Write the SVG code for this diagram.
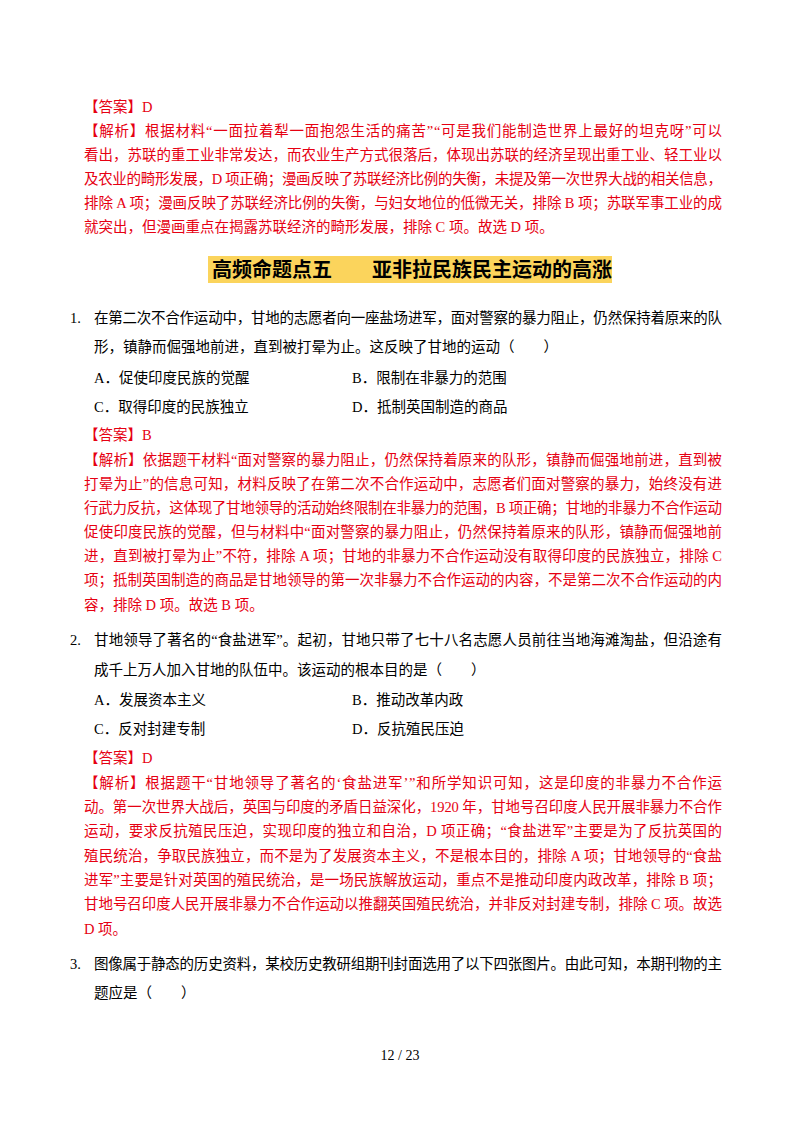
<svg xmlns="http://www.w3.org/2000/svg" width="800" height="1132" viewBox="0 0 800 1132">
<style>
text{font-family:"Liberation Serif","Noto Sans CJK SC",serif;font-size:14.5px;fill:#000}
.r{fill:#e60012}
.h{font-family:"Noto Sans CJK SC",sans-serif;font-weight:bold;font-size:20px}
</style>
<rect width="800" height="1132" fill="#fff"/>
<g id="prev">
<text class="r" x="84" y="112">【答案】D</text>
<text class="r" x="84" y="136" textLength="638" lengthAdjust="spacing">【解析】根据材料“一面拉着犁一面抱怨生活的痛苦”“可是我们能制造世界上最好的坦克呀”可以</text>
<text class="r" x="84" y="160" textLength="638" lengthAdjust="spacing">看出，苏联的重工业非常发达，而农业生产方式很落后，体现出苏联的经济呈现出重工业、轻工业以</text>
<text class="r" x="84" y="184" textLength="638" lengthAdjust="spacing">及农业的畸形发展，D 项正确；漫画反映了苏联经济比例的失衡，未提及第一次世界大战的相关信息，</text>
<text class="r" x="84" y="208" textLength="638" lengthAdjust="spacing">排除 A 项；漫画反映了苏联经济比例的失衡，与妇女地位的低微无关，排除 B 项；苏联军事工业的成</text>
<text class="r" x="84" y="232">就突出，但漫画重点在揭露苏联经济的畸形发展，排除 C 项。故选 D 项。</text>
</g>
<g id="heading">
<rect x="208" y="256" width="404" height="27" fill="#fbd45c"/>
<text class="h" x="212" y="277">高频命题点五</text>
<text class="h" x="372" y="277">亚非拉民族民主运动的高涨</text>
</g>
<g id="q1">
<text x="70" y="323">1.</text>
<text x="94" y="323" textLength="628" lengthAdjust="spacing">在第二次不合作运动中，甘地的志愿者向一座盐场进军，面对警察的暴力阻止，仍然保持着原来的队</text>
<text x="94" y="352">形，镇静而倔强地前进，直到被打晕为止。这反映了甘地的运动（　　）</text>
<text x="94" y="383">A．促使印度民族的觉醒</text>
<text x="352" y="383">B．限制在非暴力的范围</text>
<text x="94" y="412">C．取得印度的民族独立</text>
<text x="352" y="412">D．抵制英国制造的商品</text>
<text class="r" x="84" y="440">【答案】B</text>
<text class="r" x="84" y="465" textLength="638" lengthAdjust="spacing">【解析】依据题干材料“面对警察的暴力阻止，仍然保持着原来的队形，镇静而倔强地前进，直到被</text>
<text class="r" x="84" y="489" textLength="638" lengthAdjust="spacing">打晕为止”的信息可知，材料反映了在第二次不合作运动中，志愿者们面对警察的暴力，始终没有进</text>
<text class="r" x="84" y="513" textLength="638" lengthAdjust="spacing">行武力反抗，这体现了甘地领导的活动始终限制在非暴力的范围，B 项正确；甘地的非暴力不合作运动</text>
<text class="r" x="84" y="537" textLength="638" lengthAdjust="spacing">促使印度民族的觉醒，但与材料中“面对警察的暴力阻止，仍然保持着原来的队形，镇静而倔强地前</text>
<text class="r" x="84" y="561" textLength="638" lengthAdjust="spacing">进，直到被打晕为止”不符，排除 A 项；甘地的非暴力不合作运动没有取得印度的民族独立，排除 C</text>
<text class="r" x="84" y="585" textLength="638" lengthAdjust="spacing">项；抵制英国制造的商品是甘地领导的第一次非暴力不合作运动的内容，不是第二次不合作运动的内</text>
<text class="r" x="84" y="610">容，排除 D 项。故选 B 项。</text>
</g>
<g id="q2">
<text x="70" y="645">2.</text>
<text x="94" y="645" textLength="628" lengthAdjust="spacing">甘地领导了著名的“食盐进军”。起初，甘地只带了七十八名志愿人员前往当地海滩淘盐，但沿途有</text>
<text x="94" y="675">成千上万人加入甘地的队伍中。该运动的根本目的是（　　）</text>
<text x="94" y="705">A．发展资本主义</text>
<text x="352" y="705">B．推动改革内政</text>
<text x="94" y="734">C．反对封建专制</text>
<text x="352" y="734">D．反抗殖民压迫</text>
<text class="r" x="84" y="763">【答案】D</text>
<text class="r" x="84" y="788" textLength="638" lengthAdjust="spacing">【解析】根据题干“甘地领导了著名的‘食盐进军’”和所学知识可知，这是印度的非暴力不合作运</text>
<text class="r" x="84" y="812" textLength="638" lengthAdjust="spacing">动。第一次世界大战后，英国与印度的矛盾日益深化，1920 年，甘地号召印度人民开展非暴力不合作</text>
<text class="r" x="84" y="836" textLength="638" lengthAdjust="spacing">运动，要求反抗殖民压迫，实现印度的独立和自治，D 项正确；“食盐进军”主要是为了反抗英国的</text>
<text class="r" x="84" y="861" textLength="638" lengthAdjust="spacing">殖民统治，争取民族独立，而不是为了发展资本主义，不是根本目的，排除 A 项；甘地领导的“食盐</text>
<text class="r" x="84" y="885" textLength="638" lengthAdjust="spacing">进军”主要是针对英国的殖民统治，是一场民族解放运动，重点不是推动印度内政改革，排除 B 项；</text>
<text class="r" x="84" y="909" textLength="638" lengthAdjust="spacing">甘地号召印度人民开展非暴力不合作运动以推翻英国殖民统治，并非反对封建专制，排除 C 项。故选</text>
<text class="r" x="84" y="934">D 项。</text>
</g>
<g id="q3">
<text x="70" y="969">3.</text>
<text x="94" y="969" textLength="628" lengthAdjust="spacing">图像属于静态的历史资料，某校历史教研组期刊封面选用了以下四张图片。由此可知，本期刊物的主</text>
<text x="94" y="998">题应是（　　）</text>
</g>
<text x="400" y="1060" text-anchor="middle" style="font-size:14px">12 / 23</text>
</svg>
